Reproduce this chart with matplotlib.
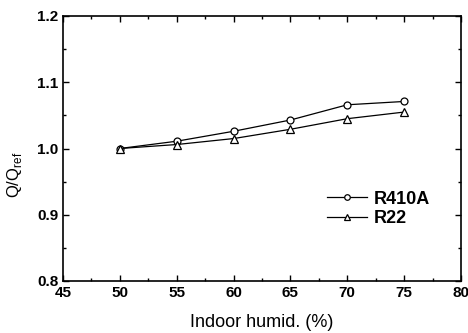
import matplotlib
matplotlib.use("Agg")
import matplotlib.pyplot as plt
from matplotlib.ticker import MultipleLocator, FormatStrFormatter

humid = [50, 55, 60, 65, 70, 75]
r410a = [1.000, 1.011, 1.026, 1.043, 1.066, 1.071]
r22 = [1.000, 1.006, 1.015, 1.029, 1.045, 1.055]

plt.rcParams['font.family'] = ['Liberation Sans', 'DejaVu Sans']

fig = plt.figure(figsize=(4.68, 3.33), dpi=100)
ax = fig.add_axes([63/468, 1 - 281/333, (461-63)/468, (281-16)/333])

ax.plot(humid, r410a, color='black', lw=0.9, marker='o', ms=5, mfc='white', mec='black', mew=0.9, label='R410A')
ax.plot(humid, r22, color='black', lw=0.9, marker='^', ms=5.5, mfc='white', mec='black', mew=0.9, label='R22')

ax.set_xlim(45, 80)
ax.set_ylim(0.8, 1.2)
ax.xaxis.set_major_locator(MultipleLocator(5))
ax.xaxis.set_minor_locator(MultipleLocator(2.5))
ax.yaxis.set_major_locator(MultipleLocator(0.1))
ax.yaxis.set_minor_locator(MultipleLocator(0.05))
ax.yaxis.set_major_formatter(FormatStrFormatter('%.1f'))
ax.tick_params(which='both', direction='in', top=True, right=True, width=1)
ax.tick_params(which='major', length=4, labelsize=11)
ax.tick_params(which='minor', length=2)
for lab in ax.get_xticklabels() + ax.get_yticklabels():
    lab.set_fontweight('bold')
for s in ax.spines.values():
    s.set_linewidth(1.2)

ax.set_xlabel('Indoor humid. (%)', fontsize=13, labelpad=10)
ax.set_ylabel(r'Q/Q$_{\mathregular{ref}}$', fontsize=12)
ax.yaxis.set_label_coords(-0.099, 0.40)

ax.legend(loc='center left', bbox_to_anchor=(0.622, 0.272), frameon=False,
          handlelength=2.2, handletextpad=0.4, labelspacing=0.15, markerscale=0.8,
          prop={'weight': 'bold', 'size': 13})

fig.savefig('out.png', dpi=100)
